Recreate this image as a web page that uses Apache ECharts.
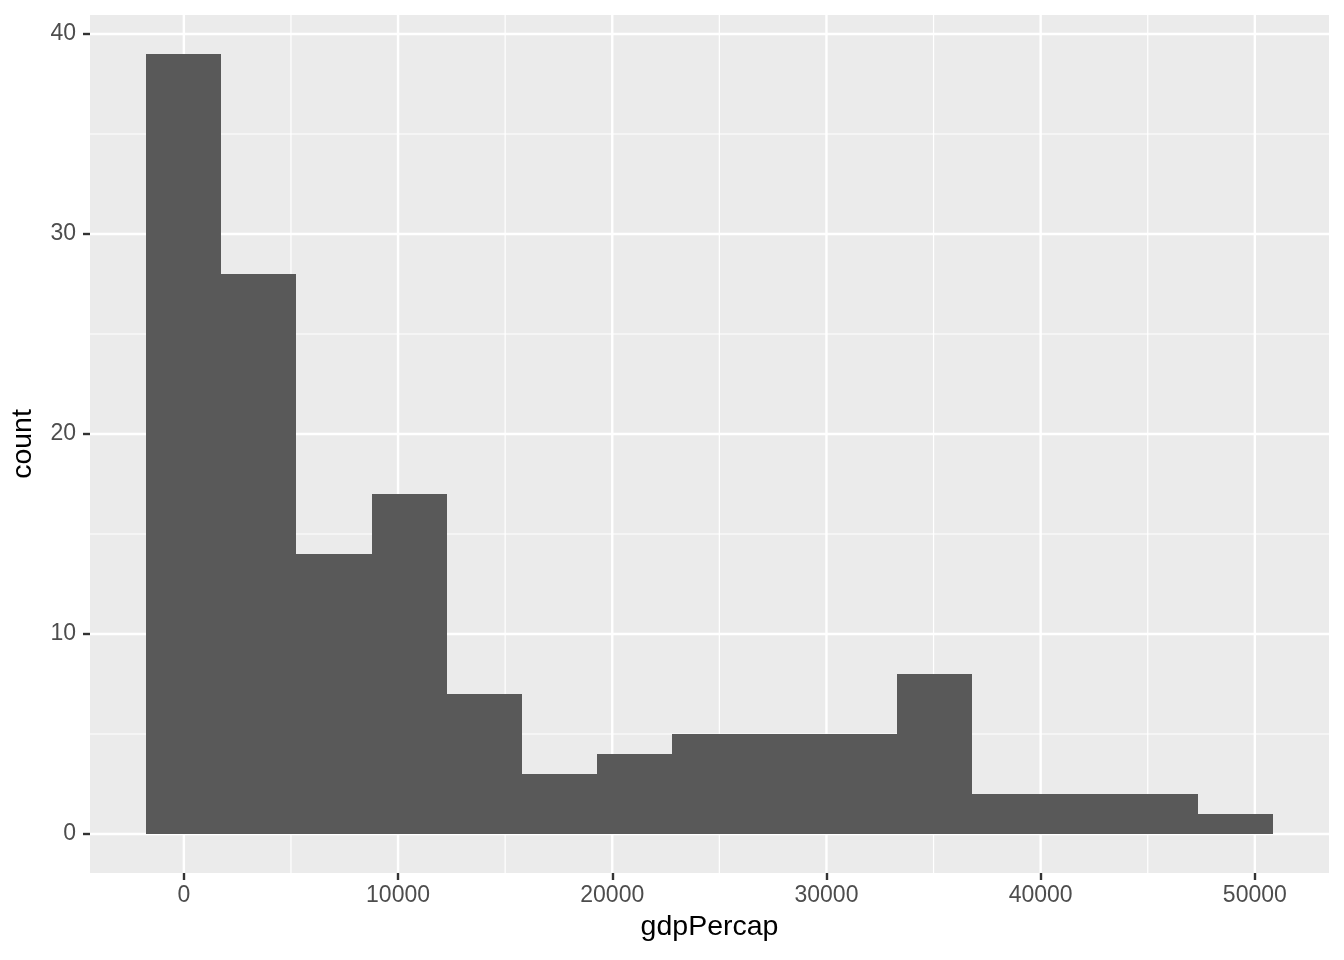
<!DOCTYPE html>
<html>
<head>
<meta charset="utf-8">
<script src="https://cdn.jsdelivr.net/npm/echarts@6/dist/echarts.min.js"></script>
<style>html,body{margin:0;padding:0;background:#fff}#c{width:1344px;height:960px}</style>
</head>
<body>
<div id="c"></div>
<script>
// Histogram bins (gdpPercap, 15 bins) and counts
const binBreaks = [-1752.84, 1752.85, 5258.54, 8764.23, 12269.92, 15775.61, 19281.30, 22786.99,
  26292.68, 29798.37, 33304.06, 36809.75, 40315.44, 43821.13, 47326.82, 50832.51];
const counts = [39, 28, 14, 17, 7, 3, 4, 5, 5, 5, 8, 2, 2, 2, 1];
const xTicks = [0, 10000, 20000, 30000, 40000, 50000];
const xMinor = [-5000, 5000, 15000, 25000, 35000, 45000];
const yTicks = [0, 10, 20, 30, 40];
const yMinor = [5, 15, 25, 35];
const xRange = [-4382, 53462];
const yRange = [-1.95, 40.95];

const FONT = "'Liberation Sans', Arial, Helvetica, sans-serif";
const bars = counts.map((c, i) => [binBreaks[i], binBreaks[i + 1], c]);
const vLines = xMinor.map(v => [v, 0, 1.2]).concat(xTicks.map(v => [v, 0, 2.4]));
const hLines = yMinor.map(v => [0, v, 1.2]).concat(yTicks.map(v => [0, v, 2.4]));

const chart = echarts.init(document.getElementById('c'), null, {renderer: 'canvas'});
chart.setOption({
  animation: false,
  grid: {left: 90, right: 15, top: 15, bottom: 87, show: true, backgroundColor: '#EBEBEB', borderWidth: 0},
  xAxis: {
    type: 'value', min: xRange[0], max: xRange[1],
    name: 'gdpPercap', nameLocation: 'middle', nameGap: 40,
    nameTextStyle: {color: '#000', fontSize: 28.5, fontFamily: FONT},
    axisLine: {show: false, onZero: false},
    splitLine: {show: false},
    axisTick: {show: true, length: 7, lineStyle: {color: '#333', width: 2.4}, customValues: xTicks},
    axisLabel: {color: '#4D4D4D', fontSize: 23, fontFamily: FONT, margin: 11, customValues: xTicks,
      formatter: v => String(v)}
  },
  yAxis: {
    type: 'value', min: yRange[0], max: yRange[1],
    name: 'count', nameLocation: 'middle', nameGap: 52, nameRotate: 90,
    nameTextStyle: {color: '#000', fontSize: 28.5, fontFamily: FONT},
    axisLine: {show: false, onZero: false},
    splitLine: {show: false},
    axisTick: {show: true, length: 7, lineStyle: {color: '#333', width: 2.4}, customValues: yTicks},
    axisLabel: {color: '#4D4D4D', fontSize: 23, fontFamily: FONT, margin: 14, customValues: yTicks,
      formatter: v => String(v)}
  },
  series: [
    {
      type: 'custom', silent: true, z: 1, clip: false,
      data: vLines,
      renderItem: (params, api) => {
        const x = api.value(0);
        const p0 = api.coord([x, yRange[0]]);
        const p1 = api.coord([x, yRange[1]]);
        return {type: 'line', shape: {x1: p0[0], y1: p0[1], x2: p1[0], y2: p1[1]},
          style: {stroke: '#FFFFFF', lineWidth: api.value(2)}};
      }
    },
    {
      type: 'custom', silent: true, z: 1, clip: false,
      data: hLines,
      renderItem: (params, api) => {
        const y = api.value(1);
        const p0 = api.coord([xRange[0], y]);
        const p1 = api.coord([xRange[1], y]);
        return {type: 'line', shape: {x1: p0[0], y1: p0[1], x2: p1[0], y2: p1[1]},
          style: {stroke: '#FFFFFF', lineWidth: api.value(2)}};
      }
    },
    {
      type: 'custom', z: 2,
      data: bars,
      encode: {x: [0, 1], y: 2},
      renderItem: (params, api) => {
        const p0 = api.coord([api.value(0), 0]);
        const p1 = api.coord([api.value(1), api.value(2)]);
        const x0 = Math.round(p0[0]), x1 = Math.round(p1[0]);
        const yb = Math.round(p0[1]), yt = Math.round(p1[1]);
        return {type: 'rect', shape: {x: x0, y: yt, width: x1 - x0, height: yb - yt},
          style: {fill: '#595959'}};
      }
    }
  ]
});
</script>
</body>
</html>
